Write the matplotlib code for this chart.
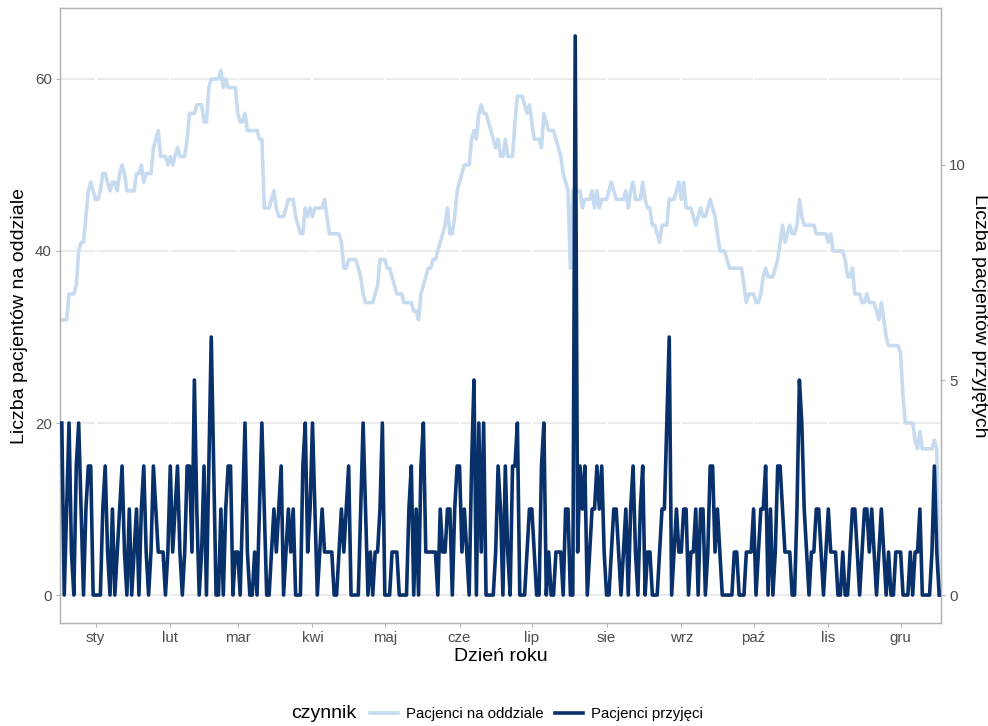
import numpy as np
import matplotlib.pyplot as plt
from matplotlib.lines import Line2D

# patients on the ward per day (left axis)
ward = [
    32, 32, 32, 35, 35, 35, 36, 40, 41, 41,
    44, 47, 48, 47, 46, 46, 47, 49, 49, 48,
    47, 48, 48, 47, 49, 50, 49, 47, 47, 47,
    47, 49, 49, 50, 48, 49, 49, 49, 52, 53,
    54, 51, 51, 51, 50, 51, 50, 51, 52, 51,
    51, 51, 53, 56, 56, 56, 57, 57, 57, 55,
    55, 59, 60, 60, 60, 60, 61, 59, 60, 59,
    59, 59, 59, 56, 55, 55, 56, 54, 54, 54,
    54, 54, 53, 53, 45, 45, 45, 46, 47, 45,
    44, 44, 44, 45, 46, 46, 46, 44, 43, 42,
    42, 45, 44, 45, 44, 45, 45, 45, 45, 46,
    44, 42, 42, 42, 42, 42, 41, 38, 38, 39,
    39, 39, 39, 38, 37, 35, 34, 34, 34, 34,
    35, 36, 39, 39, 39, 38, 38, 37, 36, 35,
    35, 35, 34, 34, 34, 34, 33, 33, 32, 35,
    36, 37, 38, 38, 39, 39, 40, 41, 42, 43,
    45, 42, 42, 44, 47, 48, 49, 50, 50, 50,
    53, 54, 53, 56, 57, 56, 56, 55, 54, 53,
    52, 53, 51, 51, 53, 51, 51, 51, 55, 58,
    58, 58, 57, 56, 57, 55, 53, 53, 53, 52,
    56, 55, 54, 54, 54, 53, 52, 51, 49, 48,
    47, 38, 47, 47, 47, 47, 45, 46, 46, 46,
    47, 45, 47, 45, 46, 46, 46, 47, 48, 47,
    46, 46, 46, 46, 47, 45, 47, 48, 46, 46,
    46, 48, 46, 45, 45, 43, 43, 42, 41, 43,
    43, 43, 46, 46, 46, 47, 48, 46, 48, 45,
    45, 45, 44, 43, 44, 45, 44, 44, 45, 46,
    45, 44, 42, 40, 40, 40, 39, 38, 38, 38,
    38, 38, 38, 36, 34, 35, 35, 35, 34, 34,
    35, 37, 38, 37, 37, 37, 38, 39, 41, 43,
    41, 42, 43, 42, 42, 43, 46, 44, 43, 43,
    43, 43, 43, 42, 42, 42, 42, 42, 41, 42,
    40, 40, 40, 40, 40, 39, 37, 37, 38, 35,
    35, 35, 34, 34, 35, 34, 34, 34, 33, 32,
    34, 32, 30, 29, 29, 29, 29, 29, 28, 23,
    20, 20, 20, 20, 18, 17, 19, 17, 17, 17,
    17, 17, 18, 17, 0,
]

# patients admitted per day (right axis)
admitted = [
    4, 0, 2, 4, 1, 0, 3, 4, 2, 0,
    2, 3, 3, 0, 0, 0, 0, 2, 3, 1,
    0, 2, 0, 1, 2, 3, 1, 0, 2, 0,
    1, 2, 0, 2, 3, 1, 0, 1, 3, 2,
    1, 1, 1, 0, 1, 3, 1, 2, 3, 1,
    0, 1, 3, 3, 1, 5, 2, 0, 1, 3,
    0, 3, 6, 3, 0, 0, 2, 0, 2, 3,
    3, 0, 1, 1, 0, 2, 4, 1, 0, 0,
    1, 0, 2, 4, 2, 0, 0, 1, 2, 1,
    2, 3, 0, 1, 2, 1, 2, 0, 0, 0,
    3, 4, 1, 2, 4, 2, 0, 1, 2, 1,
    1, 1, 1, 0, 0, 1, 2, 1, 2, 3,
    0, 0, 0, 0, 2, 4, 2, 0, 1, 0,
    1, 1, 2, 4, 0, 0, 0, 1, 1, 1,
    0, 0, 0, 0, 2, 3, 0, 2, 0, 3,
    4, 1, 1, 1, 1, 1, 0, 2, 1, 1,
    2, 2, 0, 2, 3, 3, 1, 2, 1, 0,
    3, 5, 0, 4, 1, 4, 0, 0, 0, 0,
    1, 3, 2, 0, 3, 1, 0, 3, 3, 4,
    0, 0, 0, 1, 2, 2, 1, 0, 0, 3,
    4, 0, 1, 0, 0, 1, 1, 1, 0, 2,
    2, 0, 0, 13, 1, 3, 2, 3, 0, 1,
    2, 2, 3, 2, 3, 1, 0, 0, 1, 2,
    2, 1, 0, 1, 2, 0, 2, 3, 1, 0,
    2, 3, 0, 1, 1, 0, 0, 0, 1, 2,
    2, 4, 6, 0, 1, 2, 1, 1, 2, 2,
    0, 1, 1, 2, 0, 2, 2, 0, 1, 3,
    3, 1, 2, 1, 0, 0, 0, 0, 0, 1,
    1, 0, 0, 0, 1, 1, 1, 2, 0, 1,
    2, 2, 3, 0, 2, 0, 1, 3, 3, 2,
    1, 1, 1, 0, 0, 2, 5, 4, 2, 1,
    0, 1, 1, 2, 2, 1, 0, 1, 2, 1,
    1, 1, 0, 0, 1, 0, 0, 1, 2, 2,
    1, 0, 1, 2, 2, 1, 2, 1, 0, 1,
    2, 1, 0, 1, 0, 0, 1, 1, 1, 0,
    0, 0, 1, 0, 1, 1, 2, 0, 0, 0,
    0, 1, 3, 1, 0,
]

month_days = [15, 46, 74, 105, 135, 166, 196, 227, 258, 288, 319, 349]
month_labels = ['sty', 'lut', 'mar', 'kwi', 'maj', 'cze',
                'lip', 'sie', 'wrz', 'paź', 'lis', 'gru']
series_labels = ['Pacjenci na oddziale', 'Pacjenci przyjęci']
series_colors = ['#C6DBEF', '#08306B']

plt.rcParams['font.family'] = ['Liberation Sans', 'DejaVu Sans']

days = np.arange(1, len(ward) + 1)
scale = 5.0  # right axis = left axis / 5

fig = plt.figure(figsize=(9.88, 7.26), dpi=100)
ax = fig.add_axes([60 / 988, (726 - 623) / 726, 881 / 988, 615 / 726])
ax2 = ax.twinx()

ax.set_xlim(0.25, 365.75)
ax.set_ylim(-3.25, 68.25)
ax2.set_ylim(-3.25 / scale, 68.25 / scale)

# grid: grey horizontals, white verticals on top
ax.set_axisbelow(True)
ax.set_yticks([0, 20, 40, 60])
ax.grid(axis='y', color='#EBEBEB', lw=1.4)
ax.set_xticks(month_days, month_labels)
for d in month_days:
    ax.axvline(d, color='white', lw=1.4, zorder=0.9)

ax.plot(days, ward, color=series_colors[0], lw=2.6, zorder=2)
ax2.plot(days, admitted, color=series_colors[1], lw=2.6, zorder=3)
ax2.set_yticks([0, 5, 10])

for a in (ax, ax2):
    for s in a.spines.values():
        s.set_color('#B3B3B3')
        s.set_linewidth(0.9)
    a.tick_params(length=3, color='#B3B3B3', labelcolor='#4D4D4D',
                  labelsize=10.8, pad=3)

ax.set_xlabel('Dzień roku', fontsize=14, labelpad=2)
ax.set_ylabel('Liczba pacjentów na oddziale', fontsize=14, labelpad=5)
ax2.set_ylabel('Liczba pacjentów przyjętych', fontsize=14,
               rotation=270, labelpad=16)

handles = [Line2D([], [], color=c, lw=2.6) for c in series_colors]
fig.legend(handles, series_labels, loc='center left',
           bbox_to_anchor=(370 / 988, 12 / 726), ncol=2, frameon=False,
           fontsize=10.8, handlelength=1.87, handletextpad=0.53,
           columnspacing=0.73, borderpad=0, borderaxespad=0)
fig.text(356 / 988, 12 / 726, 'czynnik', ha='right', va='center', fontsize=14)

fig.savefig('out.png', dpi=100)
